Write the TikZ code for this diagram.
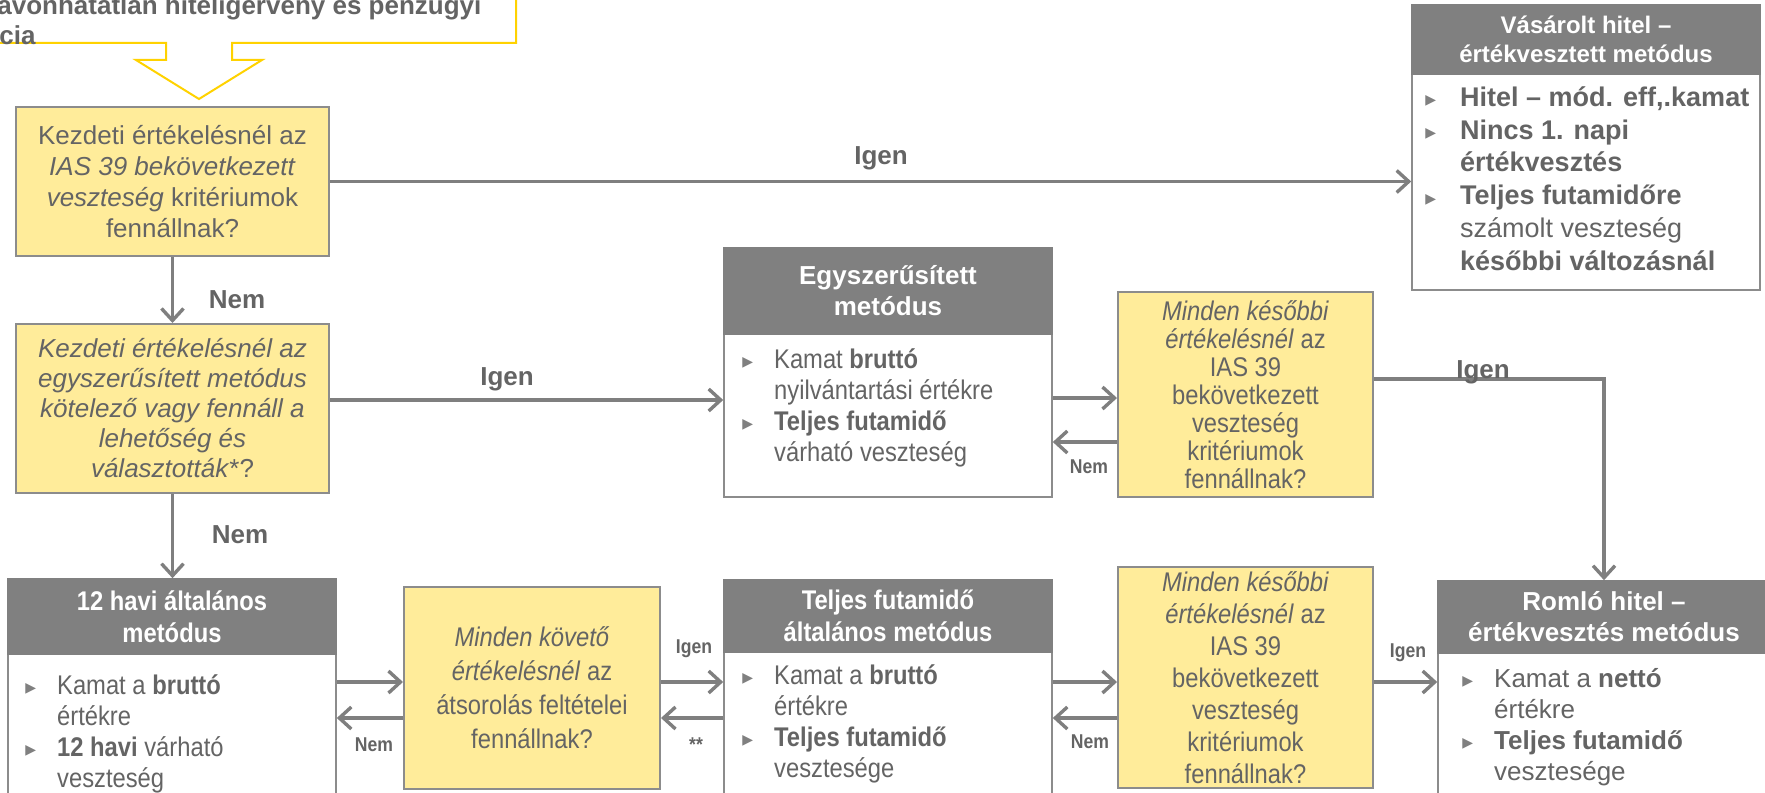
\documentclass[tikz,border=0pt]{standalone}
\usepackage{fontspec}
\setmainfont{Liberation Sans}
\newfontfamily\narrowfont{Liberation Sans}[FakeStretch=0.88]
\newfontfamily\symfont{DejaVu Sans}
\usetikzlibrary{arrows.meta,calc}

\definecolor{FlowText}{HTML}{646464}
\definecolor{FlowHead}{HTML}{808080}
\definecolor{FlowEdge}{HTML}{8C8C8C}
\definecolor{FlowArrow}{HTML}{7F7F7F}
\definecolor{FlowQuery}{HTML}{FFEC9A}
\definecolor{FlowCallout}{HTML}{FFD200}

\newcommand{\blt}{{\symfont\fontsize{7}{7}\selectfont\color{FlowHead}\raisebox{0.8pt}{▶}}}

\tikzset{
  query/.style={draw=FlowEdge,fill=FlowQuery,line width=1pt,align=center,text=FlowText,inner sep=0pt,font=\fontsize{13}{15.5}\selectfont},
  method/.style={draw=FlowEdge,fill=white,line width=0.8pt,inner sep=0pt},
  methodhead/.style={draw=FlowHead,fill=FlowHead,line width=0.8pt,text=white,align=center,inner sep=0pt,anchor=north,font=\fontsize{13}{15.5}\selectfont\bfseries},
  methodbody/.style={anchor=north west,inner sep=0pt,text=FlowText,font=\fontsize{13}{15.5}\selectfont},
  flow/.style={draw=FlowArrow,line width=1.7pt,-{Straight Barb[length=6pt,width=11pt]}},
  answer/.style={text=FlowText,inner sep=0pt,font=\fontsize{13}{15.5}\selectfont\bfseries},
  smallanswer/.style={text=FlowText,inner sep=0pt,font=\narrowfont\fontsize{10}{12}\selectfont\bfseries}
}

\begin{document}
\begin{tikzpicture}[x=0.5pt,y=-0.5pt]
  \useasboundingbox (0,0) rectangle (1765,792);

  \draw[FlowCallout,line width=1pt] (-10,43) -- (166,43) -- (166,60) -- (136,60) -- (199,99) -- (262,60) -- (232,60) -- (232,43) -- (516,43) -- (516,-10);
  \node[answer,anchor=base west] (srcA) at (-3,15) {avonhatatlan hitelígérvény és pénzügyi};
  \node[answer,anchor=base west] (srcB) at (-1,45) {cia};

  \node[query,minimum width=156.5pt,minimum height=74.5pt] (q1) at (172.5,181.5) {Kezdeti értékelésnél az\\\textit{IAS 39 bekövetkezett}\\\textit{veszteség} kritériumok\\fennállnak?};
  \node[query,minimum width=156.5pt,minimum height=84.5pt,font=\fontsize{13}{15}\selectfont\itshape] (q2) at (172.5,408.5) {Kezdeti értékelésnél az\\egyszerűsített metódus\\kötelező vagy fennáll a\\lehetőség és\\választották\textup{*?}};
  \node[query,minimum width=127.5pt,minimum height=102.5pt,font=\narrowfont\fontsize{13.5}{14}\selectfont] (q3) at (1245.5,394.5) {\textit{Minden későbbi}\\\textit{értékelésnél} az\\IAS 39\\bekövetkezett\\veszteség\\kritériumok\\fennállnak?};
  \node[query,minimum width=128pt,minimum height=101pt,font=\narrowfont\fontsize{13.5}{17}\selectfont] (q4) at (532,688) {\textit{Minden követő}\\\textit{értékelésnél} az\\átsorolás feltételei\\fennállnak?};
  \node[query,minimum width=127.5pt,minimum height=110.5pt,font=\narrowfont\fontsize{13.5}{16}\selectfont] (q6) at (1245.5,677.5) {\textit{Minden későbbi}\\\textit{értékelésnél} az\\IAS 39\\bekövetkezett\\veszteség\\kritériumok\\fennállnak?};

  \node[method,minimum width=174pt,minimum height=142.5pt] (poci) at (1586,147.5) {};
  \node[methodhead,minimum width=174pt,minimum height=34.5pt,font=\fontsize{12}{14.5}\selectfont\bfseries] (pocihead) at (poci.north) {Vásárolt hitel –\\értékvesztett metódus};
  \node[methodbody,font=\fontsize{13.5}{16.4}\selectfont] (pocitext) at (1425,83) {\begin{tabular}{@{}l@{\hspace{12pt}}l@{}}
    \blt & \textbf{Hitel – mód. eff,.kamat}\\
    \blt & \textbf{Nincs 1. napi}\\
         & \textbf{értékvesztés}\\
    \blt & \textbf{Teljes futamidőre}\\
         & számolt veszteség\\
         & \textbf{későbbi változásnál}
  \end{tabular}};

  \node[method,minimum width=164pt,minimum height=124.5pt] (simp) at (888,372.5) {};
  \node[methodhead,minimum width=164pt,minimum height=43pt] (simphead) at (simp.north) {Egyszerűsített\\metódus};
  \node[methodbody,font=\narrowfont\fontsize{13.5}{15.5}\selectfont] (simptext) at (742,346) {\begin{tabular}{@{}l@{\hspace{10.5pt}}l@{}}
    \blt & Kamat \textbf{bruttó}\\
         & nyilvántartási értékre\\
    \blt & \textbf{Teljes futamidő}\\
         & várható veszteség
  \end{tabular}};

  \node[method,minimum width=164pt,minimum height=125.5pt] (m12) at (172,704.5) {};
  \node[methodhead,minimum width=164pt,minimum height=37.5pt,font=\narrowfont\fontsize{13.5}{16}\selectfont\bfseries] (m12head) at (m12.north) {12 havi általános\\metódus};
  \node[methodbody,font=\narrowfont\fontsize{13.5}{15.5}\selectfont] (m12text) at (25,672) {\begin{tabular}{@{}l@{\hspace{10.5pt}}l@{}}
    \blt & Kamat a \textbf{bruttó}\\
         & értékre\\
    \blt & \textbf{12 havi} várható\\
         & veszteség
  \end{tabular}};

  \node[method,minimum width=164pt,minimum height=125pt] (life) at (888,705) {};
  \node[methodhead,minimum width=164pt,minimum height=36pt,font=\narrowfont\fontsize{13.5}{16}\selectfont\bfseries] (lifehead) at (life.north) {Teljes futamidő\\általános metódus};
  \node[methodbody,font=\narrowfont\fontsize{13.5}{15.5}\selectfont] (lifetext) at (742,662) {\begin{tabular}{@{}l@{\hspace{10.5pt}}l@{}}
    \blt & Kamat a \textbf{bruttó}\\
         & értékre\\
    \blt & \textbf{Teljes futamidő}\\
         & vesztesége
  \end{tabular}};

  \node[method,minimum width=166pt,minimum height=124.5pt] (imp) at (1604,705.5) {};
  \node[methodhead,minimum width=166pt,minimum height=36pt] (imphead) at (imp.north) {Romló hitel –\\értékvesztés metódus};
  \node[methodbody] (imptext) at (1462,665) {\begin{tabular}{@{}l@{\hspace{10.5pt}}l@{}}
    \blt & Kamat a \textbf{nettó}\\
         & értékre\\
    \blt & \textbf{Teljes futamidő}\\
         & vesztesége
  \end{tabular}};

  \coordinate (topA) at (0,400);
  \coordinate (midA) at (0,398);
  \coordinate (midB) at (0,442);
  \coordinate (midC) at (0,379);
  \coordinate (lowA) at (0,682);
  \coordinate (lowB) at (0,718);

  \draw[flow] (q1.east) -- (q1.east -| poci.west);
  \draw[flow] (q1.south) -- (q2.north);
  \draw[flow] (q2.east |- topA) -- (simp.west |- topA);
  \draw[flow] (q2.south) -- (q2.south |- m12.north);
  \draw[flow] (simp.east |- midA) -- (q3.west |- midA);
  \draw[flow] (q3.west |- midB) -- (simp.east |- midB);
  \draw[flow] (q3.east |- midC) -| (imp.north);
  \draw[flow] (m12.east |- lowA) -- (q4.west |- lowA);
  \draw[flow] (q4.west |- lowB) -- (m12.east |- lowB);
  \draw[flow] (q4.east |- lowA) -- (life.west |- lowA);
  \draw[flow] (life.west |- lowB) -- (q4.east |- lowB);
  \draw[flow] (life.east |- lowA) -- (q6.west |- lowA);
  \draw[flow] (q6.west |- lowB) -- (life.east |- lowB);
  \draw[flow] (q6.east |- lowA) -- (imp.west |- lowA);

  \node[answer] (yesA) at (881,158) {Igen};
  \node[answer] (noA) at (237,300) {Nem};
  \node[answer] (yesB) at (507,379) {Igen};
  \node[answer] (noB) at (240,535) {Nem};
  \node[answer] (yesC) at (1483,372) {Igen};
  \node[smallanswer] (noC) at (1089,467) {Nem};
  \node[smallanswer] (noD) at (374,745) {Nem};
  \node[smallanswer] (yesD) at (694,649) {Igen};
  \node[smallanswer] (starD) at (696,745) {**};
  \node[smallanswer] (noE) at (1090,742) {Nem};
  \node[smallanswer] (yesE) at (1408,653) {Igen};
\end{tikzpicture}
\end{document}
